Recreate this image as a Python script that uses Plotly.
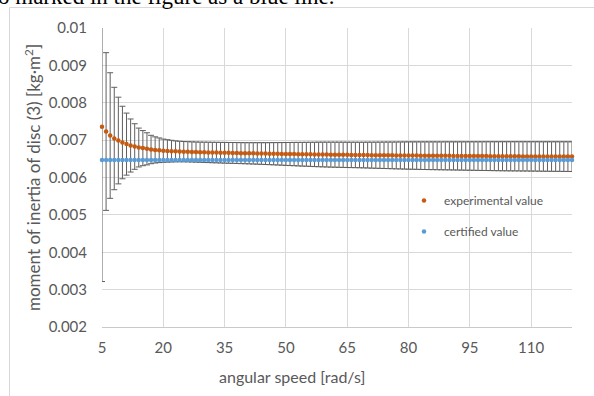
import plotly.graph_objects as go

# angular speed [rad/s]
speed = list(range(5, 121))

# experimental moment of inertia [kg·m²]
experimental = [
    0.007356, 0.00723, 0.007123, 0.007043, 0.006989, 0.006936, 0.006893, 0.006856, 0.006829, 0.006802, 0.006786, 0.006767, 0.006749,
    0.006738, 0.006728, 0.006718, 0.006711, 0.006705, 0.006699, 0.006695,
    0.006691, 0.006688, 0.006684, 0.006681, 0.006678, 0.006675, 0.006672, 0.006669, 0.006667, 0.006664,
    0.006662, 0.006659, 0.006657, 0.006655, 0.006652, 0.006650, 0.006648, 0.006646, 0.006644, 0.006642,
    0.006640, 0.006638, 0.006636, 0.006634, 0.006632, 0.006630, 0.006628, 0.006627, 0.006625, 0.006623,
    0.006622, 0.006620, 0.006618, 0.006617, 0.006615, 0.006614, 0.006612, 0.006611, 0.006609, 0.006608,
    0.006606, 0.006605, 0.006604, 0.006602, 0.006601, 0.006600, 0.006598, 0.006597, 0.006596, 0.006595,
    0.006594, 0.006592, 0.006591, 0.006590, 0.006589, 0.006588, 0.006587, 0.006586, 0.006585, 0.006584,
    0.006583, 0.006582, 0.006581, 0.006580, 0.006580, 0.006579, 0.006578, 0.006577, 0.006576, 0.006575,
    0.006575, 0.006574, 0.006573, 0.006572, 0.006572, 0.006571, 0.006570, 0.006569, 0.006569, 0.006568,
    0.006567, 0.006567, 0.006566, 0.006565, 0.006565, 0.006564, 0.006564, 0.006563, 0.006562, 0.006562,
    0.006561, 0.006561, 0.006560, 0.006560, 0.006559, 0.006559,
]

# uncertainty of the experimental value (±)
uncertainty = [
    0.00414, 0.00211, 0.00168, 0.00137, 0.00116, 0.00097, 0.00083, 0.00071, 0.00061, 0.00052, 0.00047, 0.00043, 0.00038,
    0.00035, 0.00033, 0.00031, 0.00030, 0.00029, 0.00028, 0.000275,
    0.000272, 0.00027, 0.00027, 0.00027, 0.00027, 0.000272, 0.000273, 0.000274, 0.000275, 0.000276,
    0.000277, 0.000278, 0.000279, 0.00028, 0.000281, 0.000282, 0.000284, 0.000286, 0.000288, 0.00029,
    0.000292, 0.000295, 0.000298, 0.0003, 0.000303, 0.000306, 0.000309, 0.000312, 0.000315, 0.000318,
    0.00032, 0.000323, 0.000326, 0.000329, 0.000331, 0.000333, 0.000335, 0.000336, 0.000337, 0.000338,
    0.000339, 0.00034, 0.000341, 0.000342, 0.000344, 0.000346, 0.000348, 0.00035, 0.000352, 0.000354,
    0.000356, 0.000358, 0.00036, 0.000362, 0.000364, 0.000366, 0.000367, 0.000368, 0.000369, 0.00037,
    0.000371, 0.000372, 0.000373, 0.000374, 0.000375, 0.000376, 0.000377, 0.000378, 0.000379, 0.00038,
    0.000381, 0.000382, 0.000383, 0.000384, 0.000385, 0.000386, 0.000387, 0.000388, 0.000389, 0.00039,
    0.00039, 0.000391, 0.000391, 0.000392, 0.000392, 0.000393, 0.000393, 0.000394, 0.000394, 0.000395,
    0.000395, 0.000396, 0.000396, 0.000397, 0.000397, 0.000398,
]

# certified moment of inertia [kg·m²]
certified_value = 0.00647
certified = [certified_value for _ in speed]

y_tick_values = [0.002, 0.003, 0.004, 0.005, 0.006, 0.007, 0.008, 0.009, 0.01]
y_tick_labels = ["0.002", "0.003", "0.004", "0.005", "0.006", "0.007", "0.008", "0.009", "0.01"]
x_tick_values = [5, 20, 35, 50, 65, 80, 95, 110]

ORANGE = "#C55A11"
BLUE = "#5B9BD5"
GRAY_TXT = "#595959"
FONT = "Lato"

fig = go.Figure()

# error bars (clipped to the plot area)
fig.add_trace(go.Scatter(
    x=speed, y=experimental, mode="markers",
    marker=dict(size=1, color="rgba(0,0,0,0)"),
    error_y=dict(type="data", array=uncertainty, visible=True,
                 color="#5f5f5f", thickness=1, width=3),
    showlegend=False, hoverinfo="skip",
))
fig.add_trace(go.Scatter(
    x=speed, y=experimental, mode="markers", name="experimental value",
    marker=dict(size=4.5, color=ORANGE), cliponaxis=False, legendgroup="a",
))
fig.add_trace(go.Scatter(
    x=speed, y=certified, mode="markers", name="certified value",
    marker=dict(size=4.5, color=BLUE), cliponaxis=False, legendgroup="b",
))

L, R, T, B = 102, 22, 28, 69
W, H = 594, 396
pw, ph = W - L - R, H - T - B

def px(xp):
    return (xp - L) / pw

def py(yp):
    return (H - B - yp) / ph

fig.update_layout(
    width=W, height=H,
    margin=dict(l=L, r=R, t=T, b=B, pad=0),
    paper_bgcolor="white", plot_bgcolor="white",
    font=dict(family=FONT, color=GRAY_TXT, size=15),
    xaxis=dict(range=[5, 120], tickvals=x_tick_values, showgrid=True,
               gridcolor="#d9d9d9", gridwidth=1, zeroline=False,
               showline=True, linecolor="#c9c9c9", linewidth=1,
               ticks="", ticklabelstandoff=7,
               tickfont=dict(family=FONT, size=15, color=GRAY_TXT)),
    yaxis=dict(range=[0.002, 0.01], tickvals=y_tick_values, ticktext=y_tick_labels,
               showgrid=True, gridcolor="#d9d9d9", gridwidth=1, zeroline=False,
               showline=False, ticks="", ticklabelstandoff=14,
               tickfont=dict(family=FONT, size=15, color=GRAY_TXT)),
    legend=dict(x=px(404), y=py(186), xanchor="left", yanchor="top",
                font=dict(family=FONT, size=12, color=GRAY_TXT),
                bgcolor="rgba(0,0,0,0)", tracegroupgap=12, itemsizing="trace"),
    shapes=[dict(type="rect", xref="paper", yref="paper",
                 x0=px(9.5), x1=px(700), y0=py(600), y1=py(7.5),
                 line=dict(color="#d9d9d9", width=1), layer="below")],
    annotations=[
        dict(text="angular speed [rad/s]", xref="paper", yref="paper",
             x=px(291.5), y=py(376), xanchor="center", yanchor="middle",
             showarrow=False, font=dict(family=FONT, size=16, color=GRAY_TXT)),
        dict(text="moment of inertia of disc (3) [kg·m<sup>2</sup>]", xref="paper", yref="paper",
             x=px(32), y=py(178), xanchor="center", yanchor="middle", textangle=-90,
             showarrow=False, font=dict(family=FONT, size=17, color=GRAY_TXT)),
        dict(text="o marked in the figure as a blue line.", xref="paper", yref="paper",
             x=px(-4), y=py(11), xanchor="left", yanchor="bottom",
             showarrow=False, font=dict(family="Liberation Serif", size=23, color="black")),
    ],
)

fig.write_html("out.html", config={"displayModeBar": False},
               post_script="document.body.style.margin='0';document.body.style.overflow='hidden';")
